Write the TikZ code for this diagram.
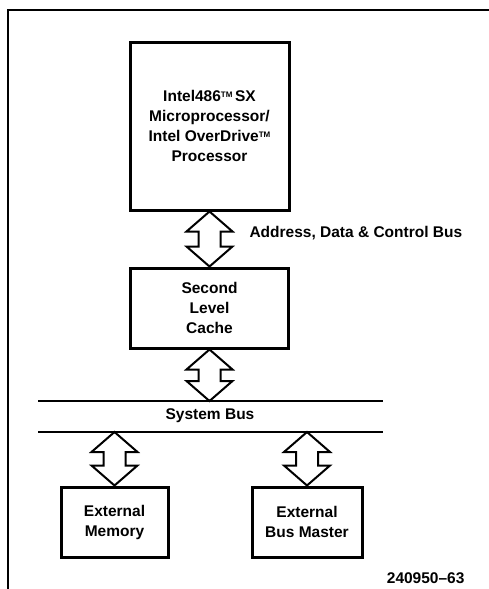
\documentclass[tikz,border=0pt]{standalone}
\usepackage{fontspec}
\setmainfont{Liberation Sans}
\usetikzlibrary{positioning,calc}

% small raised trademark letters
\newcommand{\tmark}{\raisebox{0.45ex}{\fontsize{8}{8}\selectfont TM}}

% outline of a wide two-headed bus arrow, from #1 (top) to #2 (bottom)
\newcommand{\busarrow}[2]{%
  \path[bigarrow] let \p1=(#1), \p2=(#2) in
    (\x1,\y1) -- ++(23pt,-20pt) -- ++(-12pt,0pt) -- (\x1+11pt,\y2+20pt)
    -- ++(12pt,0pt) -- (\x1,\y2) -- ++(-23pt,20pt) -- ++(12pt,0pt)
    -- (\x1-11pt,\y1-20pt) -- ++(-12pt,0pt) -- cycle;}

\begin{document}
\begin{tikzpicture}[x=1pt,y=1pt,font=\bfseries\fontsize{15.5}{20}\selectfont,
  block/.style={draw,line width=3pt,align=center,inner sep=0pt},
  bigarrow/.style={draw,line width=2pt,line join=miter},
  busline/.style={line width=2pt}]
\useasboundingbox (0,0) rectangle (489,-589);
\draw[line width=1.5pt] (489,-10) -- (8,-10) -- (8,-589);
\node[block,minimum width=159pt,minimum height=168pt] (cpu) at (209.5,-126)
      {Intel486\tmark\,SX\\Microprocessor/\\Intel OverDrive\tmark\\Processor};
\node[block,minimum width=158pt,minimum height=80pt,below=55pt of cpu] (cache)
      {Second\\Level\\Cache};
\coordinate (busA) at (38,-401);
\coordinate (busB) at (38,-432);
\draw[busline] (busA) -- (383,-401);
\draw[busline] (busB) -- (383,-432);
\node (sysbus) at (210,-416) {System Bus};
\node[block,minimum width=107pt,minimum height=70pt] (mem) at (114.5,-522)
      {External\\Memory};
\node[block,minimum width=110pt,minimum height=70pt] (master) at (307,-522)
      {External\\Bus Master};
\busarrow{cpu.south}{cache.north}
\busarrow{cache.south}{cache.south |- busA}
\busarrow{mem.north |- busB}{mem.north}
\busarrow{master.north |- busB}{master.north}
\node[anchor=west] (addr) at (246,-233) {Address, Data \& Control Bus};
\node[anchor=east] (fignum) at (468,-578) {240950--63};
\end{tikzpicture}
\end{document}
